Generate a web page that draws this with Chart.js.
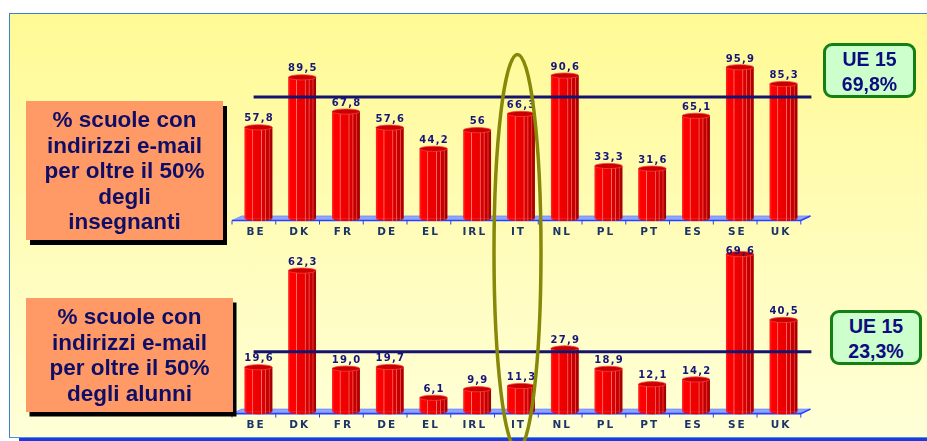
<!DOCTYPE html>
<html>
<head>
<meta charset="utf-8">
<script src="https://cdn.jsdelivr.net/npm/chart.js@4.4.1/dist/chart.umd.min.js"></script>
<style>
  html, body { margin:0; padding:0; }
  body { width:927px; height:441px; overflow:hidden; background:#ffffff; position:relative; font-family:"Liberation Sans", Arial, sans-serif; }
  #panel { position:absolute; left:9px; top:13px; width:930px; height:423px;
    border-top:1.5px solid #3a7fe0; border-left:1.5px solid #3a7fe0; border-bottom:1.5px solid #4a8ff0;
    background:linear-gradient(to bottom, #fffa94 0%, #fffcb4 45%, #ffffd8 100%); }
  #shadowbar { position:absolute; left:19px; top:438px; width:920px; height:4px; background:#1f3ad8; }
  .box { position:absolute; background:#ff9966; color:#0e0e66; font-weight:bold; font-size:22.5px;
    line-height:25.5px; text-align:center; box-sizing:border-box; padding-top:6px; }
  .ue { position:absolute; background:#ccffcc; border:3px solid #138013; border-radius:9px; color:#0c0c80;
    font-weight:bold; font-size:19.5px; line-height:25px; text-align:center; box-sizing:border-box; padding-top:1px; }
  canvas { position:absolute; }
  #ell { position:absolute; left:0; top:0; pointer-events:none; }
</style>
</head>
<body>
<div id="panel"></div>
<div id="shadowbar"></div>
<canvas id="cTop" width="610" height="210" style="left:220px; top:40px;"></canvas>
<canvas id="cBot" width="610" height="210" style="left:220px; top:232px;"></canvas>
<div class="box" style="left:26px; top:101px; width:197px; height:139px; box-shadow:4px 5px 0 #000;">% scuole con<br>indirizzi e-mail<br>per oltre il 50%<br>degli<br>insegnanti</div>
<div class="box" style="left:26px; top:298px; width:207px; height:114px; box-shadow:3.5px 4.5px 0 #000;">% scuole con<br>indirizzi e-mail<br>per oltre il 50%<br>degli alunni</div>
<div class="ue" style="left:823px; top:43px; width:93px; height:55px;">UE 15<br>69,8%</div>
<div class="ue" style="left:830px; top:310px; width:92px; height:55px;">UE 15<br>23,3%</div>
<svg id="ell" width="927" height="441"></svg>
<script>
// ---- data ----
const categories = ['BE','DK','FR','DE','EL','IRL','IT','NL','PL','PT','ES','SE','UK'];
const teachersPct = [57.8, 89.5, 67.8, 57.6, 44.2, 56, 66.3, 90.6, 33.3, 31.6, 65.1, 95.9, 85.3];
const pupilsPct   = [19.6, 62.3, 19.0, 19.7, 6.1, 9.9, 11.3, 27.9, 18.9, 12.1, 14.2, 69.6, 40.5];
const teachersRefLine = 77.0;   // level of the dark reference line as drawn
const pupilsRefLine = 26.5;
const teachersAxisMax = 100;
const pupilsAxisMax = 70;
const highlightedCategory = 'IT';

function fmtTop(v){ return String(v).replace('.', ','); }
function fmtBot(v){ return v.toFixed(1).replace('.', ','); }

const FONT = '"DejaVu Sans", "Liberation Sans", Arial, sans-serif';

const cylPlugin = {
  id: 'cyl',
  beforeDraw(chart){ chart.ctx.letterSpacing = '2px'; },
  afterDraw(chart){ chart.ctx.letterSpacing = '0px'; },
  beforeDatasetsDraw(chart){
    const ctx = chart.ctx, a = chart.chartArea, y0 = a.bottom;
    const n = chart.data.labels.length, cw = (a.right - a.left) / n;
    ctx.save();
    ctx.beginPath();
    ctx.moveTo(a.left - 4.6, y0 + 2);
    ctx.lineTo(a.right - 4.6, y0 + 2);
    ctx.lineTo(a.right + 5, y0 - 2.5);
    ctx.lineTo(a.left + 5, y0 - 2.5);
    ctx.closePath();
    ctx.fillStyle = '#8ea6ff';
    ctx.fill();
    ctx.strokeStyle = '#6f86ff'; ctx.lineWidth = 0.8; ctx.stroke();
    ctx.beginPath();
    ctx.moveTo(a.left - 4.6, y0 + 2); ctx.lineTo(a.right - 4.6, y0 + 2); ctx.lineTo(a.right + 5, y0 - 2.5);
    ctx.strokeStyle = '#2a40ff'; ctx.lineWidth = 1.6; ctx.stroke();
    ctx.beginPath();
    for (let k = 0; k <= n; k++) {
      const x = a.left - 4.6 + k * cw;
      ctx.moveTo(x, y0 + 2); ctx.lineTo(x, y0 + 6);
    }
    ctx.strokeStyle = '#2a40ff'; ctx.lineWidth = 1; ctx.stroke();
    ctx.restore();
  },
  afterDatasetsDraw(chart, args, opts){
    const ctx = chart.ctx, a = chart.chartArea;
    const meta = chart.getDatasetMeta(0);
    const vals = chart.data.datasets[0].data;
    ctx.save();
    meta.data.forEach((el) => {
      const p = el.getProps(['x','y','base','width'], true);
      const w = p.width, l = p.x - w/2, r = p.x + w/2;
      const g = ctx.createLinearGradient(l, 0, r, 0);
      g.addColorStop(0.00, '#ff2a2a');
      g.addColorStop(0.08, '#ff0000');
      g.addColorStop(0.26, '#ff0000');
      g.addColorStop(0.29, '#ff7a7a');
      g.addColorStop(0.32, '#f20000');
      g.addColorStop(0.58, '#e80000');
      g.addColorStop(0.61, '#ff6a6a');
      g.addColorStop(0.64, '#dc0000');
      g.addColorStop(0.72, '#d40000');
      g.addColorStop(0.75, '#ff5a5a');
      g.addColorStop(0.78, '#c40000');
      g.addColorStop(0.86, '#c00000');
      g.addColorStop(0.89, '#f04040');
      g.addColorStop(0.92, '#b00000');
      g.addColorStop(1.00, '#a00000');
      ctx.fillStyle = g;
      ctx.fillRect(l, p.y, w, p.base - p.y);
      ctx.beginPath();
      ctx.ellipse(p.x, p.base, w/2, 2.6, 0, 0, Math.PI);
      ctx.fill();
      ctx.beginPath();
      ctx.ellipse(p.x, p.y, w/2, 2.6, 0, 0, 2*Math.PI);
      ctx.fillStyle = '#c80000';
      ctx.fill();
      ctx.strokeStyle = '#ff3a3a'; ctx.lineWidth = 0.8; ctx.stroke();
    });
    // reference line
    const yl = chart.scales.y.getPixelForValue(opts.refLine);
    ctx.beginPath();
    ctx.moveTo(a.left + 17, yl); ctx.lineTo(a.right + 6, yl);
    ctx.strokeStyle = '#14146e'; ctx.lineWidth = 3; ctx.stroke();
    // value labels
    ctx.font = 'bold 10px ' + FONT;
    ctx.letterSpacing = '1.2px';
    ctx.fillStyle = '#16167a';
    ctx.textAlign = 'center'; ctx.textBaseline = 'middle';
    meta.data.forEach((el, i) => {
      const p = el.getProps(['x','y'], true);
      const y = Math.max(p.y - 8.5, a.top - 1.5);
      ctx.fillText(opts.fmt(vals[i]), p.x + 0.6, y);
    });
    ctx.restore();
  }
};

function makeChart(id, values, max, refLine, fmt, padTop, padBottom){
  return new Chart(document.getElementById(id), {
    type: 'bar',
    data: { labels: categories, datasets: [{ data: values, backgroundColor: '#ee0000', borderWidth: 0,
      barPercentage: 0.63, categoryPercentage: 1.0 }] },
    options: {
      responsive: false, animation: false, events: [],
      layout: { padding: { left: 16.6, right: 24.6, top: padTop, bottom: padBottom } },
      plugins: { legend: { display: false }, tooltip: { enabled: false }, cyl: { refLine: refLine, fmt: fmt } },
      scales: {
        y: { display: false, min: 0, max: max },
        x: {
          grid: { display: false, drawTicks: false }, border: { display: false },
          afterFit: (s) => { s.height = 26; },
          ticks: { autoSkip: false, maxRotation: 0, padding: 7, labelOffset: -2.5, color: '#1a3566',
            font: { family: FONT, size: 10.5, weight: 'bold' } }
        }
      }
    },
    plugins: [cylPlugin]
  });
}

const chartTop = makeChart('cTop', teachersPct, teachersAxisMax, teachersRefLine, fmtTop, 20.8, 5.5);
const chartBot = makeChart('cBot', pupilsPct, pupilsAxisMax, pupilsRefLine, fmtBot, 21.2, 4.4);

// highlight ellipse around the chosen category (spans both charts)
(function(){
  const idx = categories.indexOf(highlightedCategory);
  const cx = 220 + chartTop.scales.x.getPixelForValue(idx) - 3.5;
  const svg = document.getElementById('ell');
  const e = document.createElementNS('http://www.w3.org/2000/svg', 'ellipse');
  e.setAttribute('cx', cx); e.setAttribute('cy', 252);
  e.setAttribute('rx', 23.5); e.setAttribute('ry', 197.5);
  e.setAttribute('fill', 'none'); e.setAttribute('stroke', '#878708'); e.setAttribute('stroke-width', 3.5);
  svg.appendChild(e);
})();
</script>
</body>
</html>
